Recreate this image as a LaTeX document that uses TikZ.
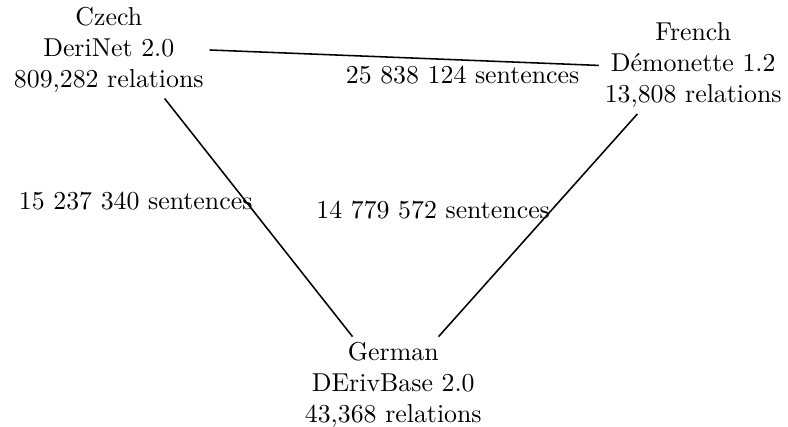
\documentclass[tikz,border=0pt]{standalone}
\begin{document}
\begin{tikzpicture}[lang/.style={align=center,inner sep=2pt},count/.style={inner sep=2pt},semithick]
	\useasboundingbox (0,0) rectangle (10.72,5.80);
	\node[lang] (cs) at (1.48,5.12) {Czech\\DeriNet 2.0\\809,282 relations};
	\node[lang] (fr) at (9.43,4.91) {French\\Démonette 1.2\\13,808 relations};
	\node[lang] (de) at (5.35,0.56) {German\\DErivBase 2.0\\43,368 relations};
	\draw (cs.east) -- node[count,pos=0.65,below]{25 838 124 sentences} (fr.west);
	\draw (cs.-41) -- node[count,pos=0.43,anchor=east,xshift=5pt]{15 237 340 sentences} (de.130);
	\draw (fr.221) -- node[count,pos=0.43,anchor=east,xshift=1.5pt]{14 779 572 sentences} (de.47);
\end{tikzpicture}
\end{document}
